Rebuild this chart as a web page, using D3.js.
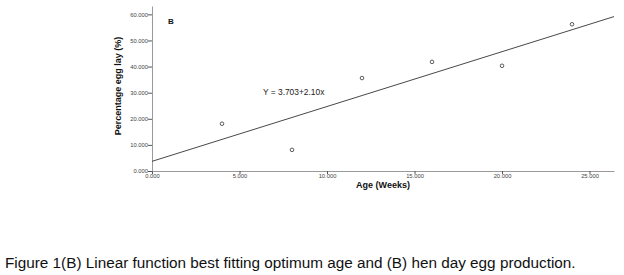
<!DOCTYPE html>
<html>
<head>
<meta charset="utf-8">
<script src="https://cdn.jsdelivr.net/npm/d3@7"></script>
<style>
body { margin: 0; background: #fff; }
svg { display: block; }
</style>
</head>
<body>
<div class="chart"></div>
<script>
// data
const ageWeeks = [4, 8, 12, 16, 20, 24]
const eggLay = [18.1, 8.1, 35.6, 41.8, 40.3, 56.2]
const xTicks = [0, 5, 10, 15, 20, 25]
const yTicks = [0, 10, 20, 30, 40, 50, 60]
const fit = {intercept: 3.703, slope: 2.10}

const width = 624, height = 275
const margin = ({top: 6, right: 10, bottom: 105, left: 152})

const svg = d3.select('.chart').append('svg')
    .attr('width', width)
    .attr('height', height)
    .style('font-family', 'Liberation Sans, Arial, sans-serif')

const x = d3.scaleLinear()
    .domain([0, 26.4])
    .range([margin.left, width - margin.right])

const y = d3.scaleLinear()
    .domain([0, 63.2])
    .range([height - margin.bottom + 1, margin.top])

const fmt = d3.format('.3f')

// axes
const xAxis = svg.append('g')
    .attr('transform', `translate(0,${y(0)})`)
    .call(d3.axisBottom(x).tickValues(xTicks).tickFormat(fmt).tickSize(3).tickSizeOuter(0))
const yAxis = svg.append('g')
    .attr('transform', `translate(${x(0)},0)`)
    .call(d3.axisLeft(y).tickValues(yTicks).tickFormat(fmt).tickSize(4).tickSizeOuter(0))

;[xAxis, yAxis].forEach(g => {
    g.select('.domain').attr('stroke', '#9a9a9a')
    g.selectAll('.tick line').attr('stroke', '#555')
    g.selectAll('.tick text')
        .attr('font-size', 5.8)
        .attr('fill', '#444')
        .attr('font-family', 'Liberation Sans, Arial, sans-serif')
})
xAxis.selectAll('.tick text').attr('y', 3).attr('dy', '0.71em')
yAxis.selectAll('.tick text').attr('x', -4)

// fit line
svg.append('line')
    .attr('x1', x(0))
    .attr('y1', y(fit.intercept))
    .attr('x2', x(26.4))
    .attr('y2', y(fit.intercept + fit.slope * 26.4))
    .attr('stroke', '#333')
    .attr('stroke-width', 0.9)

// points
svg.selectAll('.pt')
    .data(ageWeeks)
    .enter()
    .append('circle')
    .attr('class', 'pt')
    .attr('cx', d => x(d))
    .attr('cy', (d, i) => y(eggLay[i]))
    .attr('r', 1.8)
    .attr('fill', 'none')
    .attr('stroke', '#333')
    .attr('stroke-width', 0.8)

// labels
svg.append('text')
    .text('Y = 3.703+2.10x')
    .attr('x', 263)
    .attr('y', 95)
    .attr('font-size', 8.4)
    .attr('fill', '#222')

svg.append('text')
    .text('B')
    .attr('x', 168)
    .attr('y', 24)
    .attr('font-size', 8)
    .attr('font-weight', 'bold')
    .attr('fill', '#111')

svg.append('text')
    .text('Age (Weeks)')
    .attr('x', 383)
    .attr('y', 188)
    .attr('text-anchor', 'middle')
    .attr('font-size', 9)
    .attr('font-weight', 'bold')
    .attr('fill', '#111')

svg.append('text')
    .text('Percentage egg lay (%)')
    .attr('transform', 'translate(121,86) rotate(-90)')
    .attr('text-anchor', 'middle')
    .attr('font-size', 9)
    .attr('font-weight', 'bold')
    .attr('fill', '#111')

svg.append('text')
    .text('Figure 1(B) Linear function best fitting optimum age and (B) hen day egg production.')
    .attr('x', 5)
    .attr('y', 268)
    .attr('font-size', 15.3)
    .attr('fill', '#111')
</script>
</body>
</html>
